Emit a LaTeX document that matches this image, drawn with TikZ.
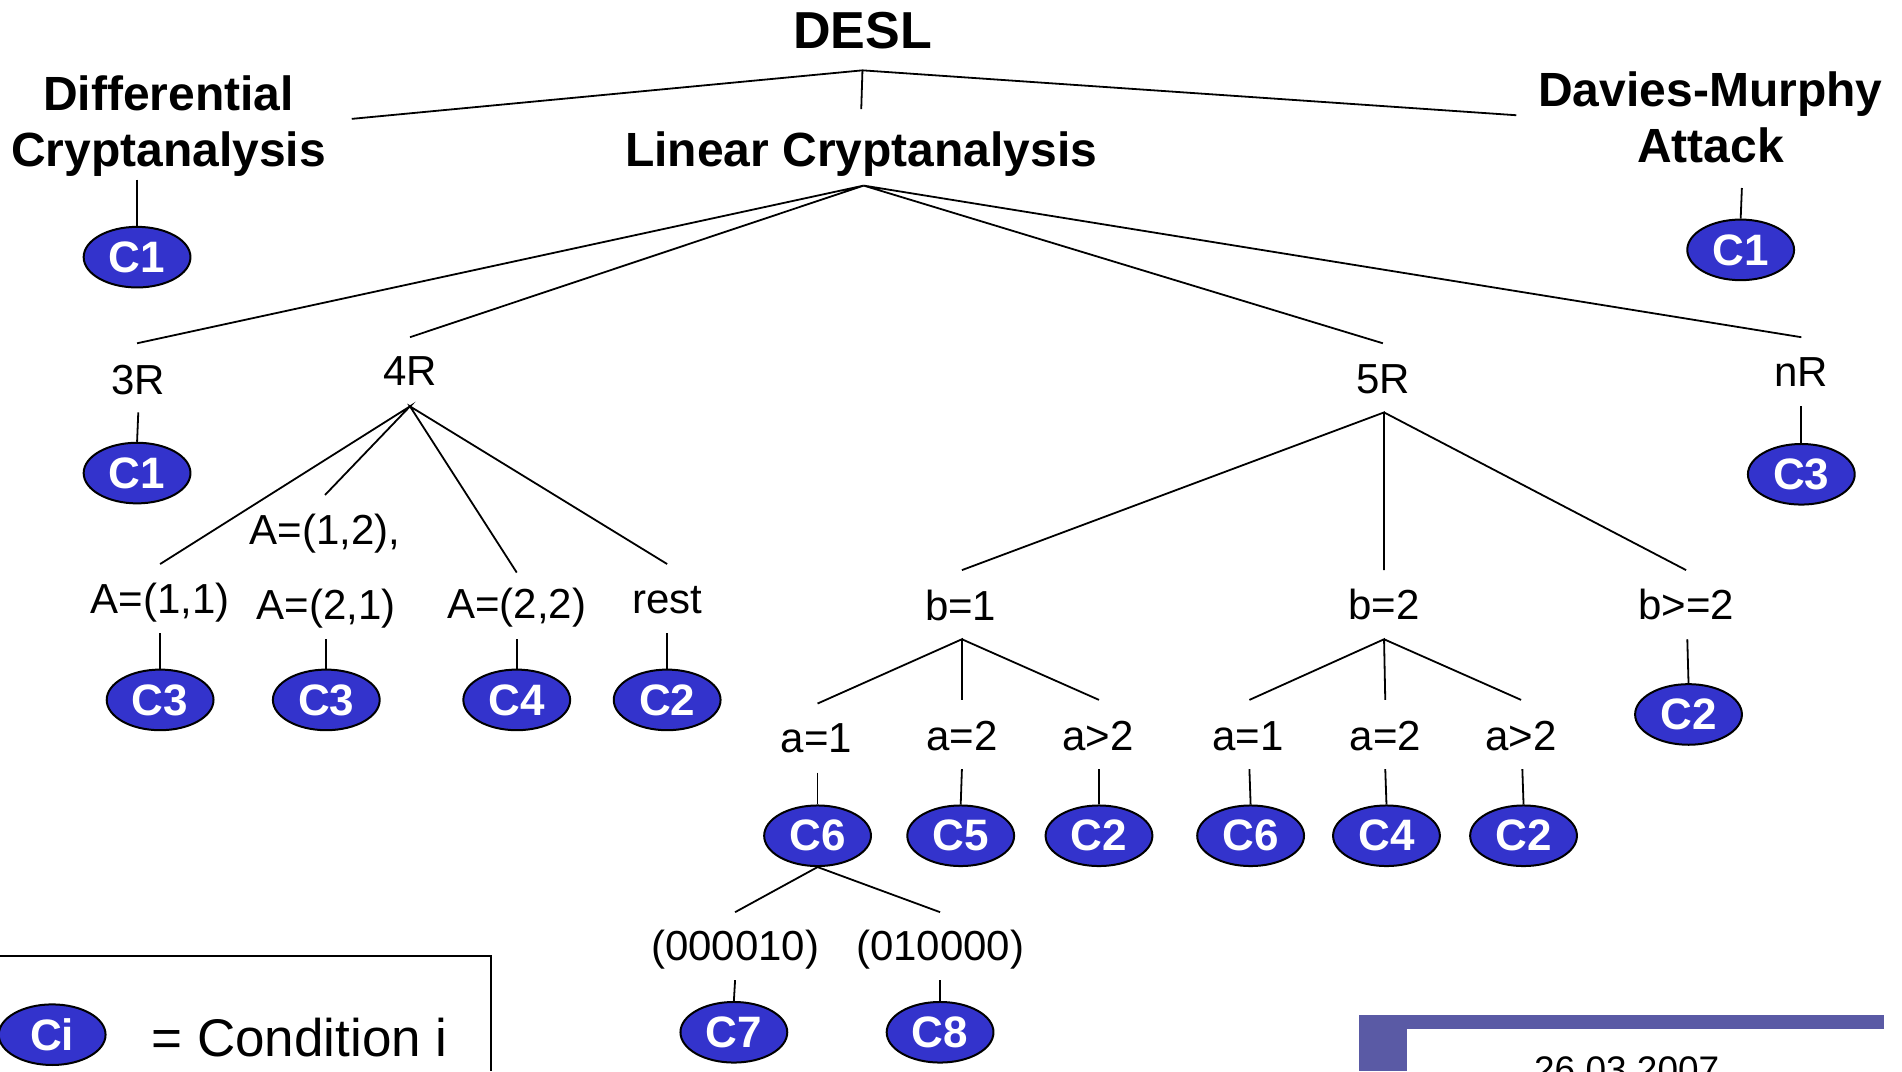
\documentclass[tikz,border=0pt]{standalone}
\usepackage{fontspec}
\setmainfont{Liberation Sans}
\usetikzlibrary{shapes.geometric}
\definecolor{cblue}{RGB}{51,51,204}
\definecolor{cpurp}{RGB}{90,90,165}
\begin{document}
\begin{tikzpicture}[x=0.6065pt,y=-0.6065pt,
  lbl/.style={font=\fontsize{21}{25}\selectfont, inner sep=0},
  blbl/.style={font=\fontsize{24}{28}\selectfont\bfseries, inner sep=0, align=center},
  cond/.style={ellipse, draw=black, line width=1pt, fill=cblue, text=white,
    font=\fontsize{22}{26}\selectfont\bfseries, minimum width=53.4pt, minimum height=30.3pt, inner sep=0},
  link/.style={line width=0.9pt}]
\useasboundingbox (0,0) rectangle (1568,883);
\clip (0,0) rectangle (1568,883);

% top level
\node[font=\fontsize{26}{30}\selectfont\bfseries, inner sep=0] (desl) at (711,25) {DESL};
\coordinate (dj) at (711,58);
\node[blbl] (diff) at (139,104) {Differential\\Cryptanalysis};
\node[blbl] (lin) at (710,127) {Linear Cryptanalysis};
\node[blbl] (dav) at (1410,96.5) {Davies-Murphy\\Attack};
\coordinate (diffT) at (290,98);
\coordinate (davT) at (1250,95);
\coordinate (linT) at (710,90);
\draw[link] (diffT) -- (dj) -- (davT);
\draw[link] (dj) -- (linT);

\coordinate (diffB) at (113,148);
\node[cond] (cD) at (113,212) {C1};
\draw[link] (diffB) -- (cD.north);
\coordinate (davB) at (1436,155);
\node[cond] (cM) at (1435,206) {C1};
\draw[link] (davB) -- (cM.north);

% rounds
\coordinate (lj) at (712,153);
\node[lbl] (r3) at (114,313) {3R};
\node[lbl] (r4) at (338,306) {4R};
\node[lbl] (r5) at (1140,313) {5R};
\node[lbl] (rn) at (1485,307) {nR};
\coordinate (r3T) at (113,283);
\coordinate (r4T) at (338,278);
\coordinate (r5T) at (1140,283);
\coordinate (rnT) at (1485,278);
\draw[link] (r3T) -- (lj) -- (r4T);
\draw[link] (r5T) -- (lj) -- (rnT);

\coordinate (r3B) at (114,340);
\node[cond] (c3R) at (113,390) {C1};
\draw[link] (r3B) -- (c3R.north);
\coordinate (rnB) at (1485,335);
\node[cond] (cnR) at (1485,391) {C3};
\draw[link] (rnB) -- (cnR.north);

% 4R children
\coordinate (r4B) at (338,335);
\node[lbl] (a11) at (132,497) {A=(1,1)};
\node[lbl] (a12) at (268,440) {A=(1,2),};
\node[lbl] (a21) at (269,502) {A=(2,1)};
\node[lbl] (a22) at (426,501) {A=(2,2)};
\node[lbl] (rest) at (550,495) {rest};
\coordinate (a11T) at (132,465);
\coordinate (a12T) at (268,408);
\coordinate (a22T) at (426,472);
\coordinate (restT) at (550,465);
\draw[link] (a11T) -- (r4B) -- (a12T);
\draw[link] (a22T) -- (r4B) -- (restT);
\coordinate (a11B) at (132,522);
\coordinate (a21B) at (269,527);
\coordinate (a22B) at (426,527);
\coordinate (restB) at (550,522);
\node[cond] (ca11) at (132,577) {C3};
\node[cond] (ca21) at (269,577) {C3};
\node[cond] (ca22) at (426,577) {C4};
\node[cond] (crest) at (550,577) {C2};
\draw[link] (a11B) -- (ca11.north);
\draw[link] (a21B) -- (ca21.north);
\draw[link] (a22B) -- (ca22.north);
\draw[link] (restB) -- (crest.north);

% 5R children
\coordinate (r5B) at (1141,340);
\node[lbl] (b1) at (792,499) {b=1};
\node[lbl] (b2) at (1141,498) {b=2};
\node[lbl] (b3) at (1390,498) {b>=2};
\coordinate (b1T) at (793,470);
\coordinate (b2T) at (1141,470);
\coordinate (b3T) at (1390,470);
\draw[link] (b1T) -- (r5B) -- (b2T);
\draw[link] (r5B) -- (b3T);
\coordinate (b3B) at (1391,527);
\node[cond] (cb3) at (1392,589) {C2};
\draw[link] (b3B) -- (cb3.north);

% b=1 children
\coordinate (b1B) at (793,527);
\node[lbl] (p1) at (673,609) {a=1};
\node[lbl] (p2) at (793,607) {a=2};
\node[lbl] (p3) at (905,607) {a>2};
\coordinate (p1T) at (674,580);
\coordinate (p2T) at (793,577);
\coordinate (p3T) at (906,577);
\draw[link] (p1T) -- (b1B) -- (p2T);
\draw[link] (b1B) -- (p3T);
\coordinate (p1B) at (674,637);
\coordinate (p2B) at (793,634);
\coordinate (p3B) at (906,634);
\node[cond] (cp1) at (674,689) {C6};
\node[cond] (cp2) at (792,689) {C5};
\node[cond] (cp3) at (906,689) {C2};
\draw[link] (p1B) -- (cp1.north);
\draw[link] (p2B) -- (cp2.north);
\draw[link] (p3B) -- (cp3.north);

% b=2 children
\coordinate (b2B) at (1141,527);
\node[lbl] (q1) at (1029,607) {a=1};
\node[lbl] (q2) at (1142,607) {a=2};
\node[lbl] (q3) at (1254,607) {a>2};
\coordinate (q1T) at (1030,577);
\coordinate (q2T) at (1142,577);
\coordinate (q3T) at (1254,577);
\draw[link] (q1T) -- (b2B) -- (q2T);
\draw[link] (b2B) -- (q3T);
\coordinate (q1B) at (1030,634);
\coordinate (q2B) at (1142,634);
\coordinate (q3B) at (1255,634);
\node[cond] (cq1) at (1031,689) {C6};
\node[cond] (cq2) at (1143,689) {C4};
\node[cond] (cq3) at (1256,689) {C2};
\draw[link] (q1B) -- (cq1.north);
\draw[link] (q2B) -- (cq2.north);
\draw[link] (q3B) -- (cq3.north);

% C6 children
\node[lbl] (s1) at (606,782.5) {(000010)};
\node[lbl] (s2) at (775,782.5) {(010000)};
\coordinate (s1T) at (606,752);
\coordinate (s2T) at (775,752);
\draw[link] (s1T) -- (cp1.south) -- (s2T);
\coordinate (s1B) at (606,808);
\coordinate (s2B) at (775,808);
\node[cond] (cs1) at (605,851) {C7};
\node[cond] (cs2) at (775,851) {C8};
\draw[link] (s1B) -- (cs1.north);
\draw[link] (s2B) -- (cs2.north);

% legend
\coordinate (legA) at (0,788);
\coordinate (legB) at (405,788);
\coordinate (legC) at (405,883);
\draw[link] (legA) -- (legB) -- (legC);
\node[cond] (ci) at (43,853) {Ci};
\node[font=\fontsize{26.5}{30}\selectfont, inner sep=0] (condi) at (247,855) {= Condition i};

% footer decoration
\fill[cpurp] (1120,837) rectangle (1553,848);
\fill[cpurp] (1120,837) rectangle (1160,883);
\node[font=\fontsize{18.5}{22}\selectfont, inner sep=0, anchor=base] (date) at (1341,892) {26.03.2007};
\end{tikzpicture}
\end{document}
